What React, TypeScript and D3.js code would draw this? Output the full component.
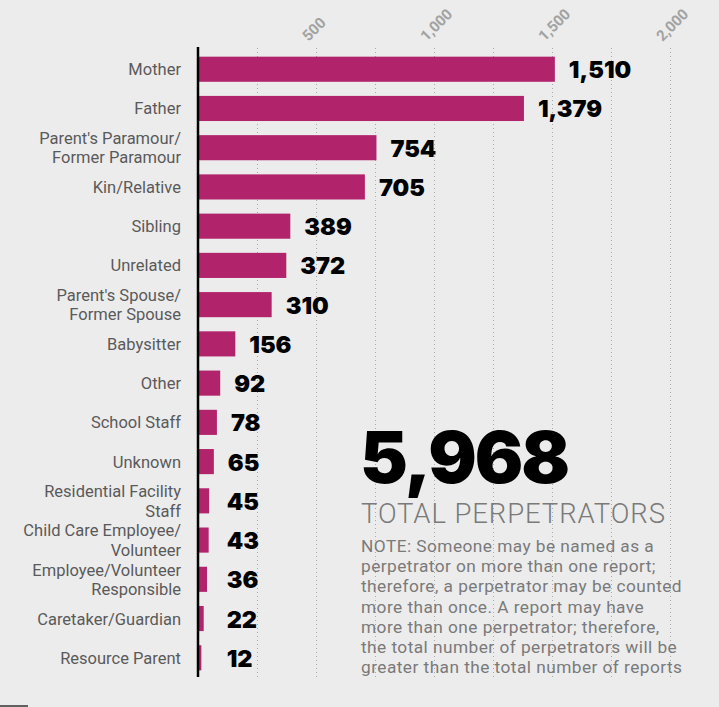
import React, { useEffect, useRef } from 'react';
import { select, scaleLinear, scaleBand, range, format } from 'd3';

// perpetrator relationship, "|" marks a line break in the label
const categories = [
  'Mother',
  'Father',
  "Parent's Paramour/|Former Paramour",
  'Kin/Relative',
  'Sibling',
  'Unrelated',
  "Parent's Spouse/|Former Spouse",
  'Babysitter',
  'Other',
  'School Staff',
  'Unknown',
  'Residential Facility|Staff',
  'Child Care Employee/|Volunteer',
  'Employee/Volunteer|Responsible',
  'Caretaker/Guardian',
  'Resource Parent',
];
const counts = [1510, 1379, 754, 705, 389, 372, 310, 156, 92, 78, 65, 45, 43, 36, 22, 12];
const tickLabels = [500, 1000, 1500, 2000];
const gridTicks = range(250, 2001, 250);

const totalValue = 5968;
const totalLabel = 'TOTAL PERPETRATORS';
const noteLines = [
  'NOTE: Someone may be named as a',
  'perpetrator on more than one report;',
  'therefore, a perpetrator may be counted',
  'more than once. A report may have',
  'more than one perpetrator; therefore,',
  'the total number of perpetrators will be',
  'greater than the total number of reports',
];

const W = 719;
const H = 707;

const App = () => {
  const svgRef = useRef<SVGSVGElement>(null);

  useEffect(() => {
    document.body.style.margin = '0';
    const svg = select(svgRef.current);
    svg.selectAll('*').remove();

    const x = scaleLinear().domain([0, 2000]).range([198.5, 670.5]);
    const y = scaleBand<number>()
      .domain(categories.map((d, i) => i))
      .range([50, 677])
      .paddingInner(0.36)
      .paddingOuter(0.17);
    const fmt = format(',');

    svg.append('rect').attr('width', W).attr('height', H).attr('fill', '#ececec');

    // dotted grid
    svg.append('g')
      .selectAll('line')
      .data(gridTicks)
      .join('line')
      .attr('x1', d => x(d))
      .attr('x2', d => x(d))
      .attr('y1', 48)
      .attr('y2', 677)
      .attr('stroke', '#a8a8a8')
      .attr('stroke-width', 1)
      .attr('stroke-dasharray', '1,3');

    // rotated tick labels
    svg.append('g')
      .selectAll('text')
      .data(tickLabels)
      .join('text')
      .attr('transform', d => `translate(${x(d) - 8},42) rotate(-45)`)
      .attr('font-family', 'Roboto, sans-serif')
      .attr('font-weight', 700)
      .attr('font-size', 15)
      .attr('fill', '#a2a2a2')
      .text(d => fmt(d));

    // bars
    svg.append('g')
      .selectAll('rect')
      .data(counts)
      .join('rect')
      .attr('x', x(0))
      .attr('y', (d, i) => y(i)!)
      .attr('width', d => x(d) - x(0))
      .attr('height', y.bandwidth())
      .attr('fill', '#b1236b');

    // axis line
    svg.append('line')
      .attr('x1', 198)
      .attr('x2', 198)
      .attr('y1', 47)
      .attr('y2', 677)
      .attr('stroke', '#000')
      .attr('stroke-width', 2.5);

    // category labels
    const labels = svg.append('g')
      .selectAll('text')
      .data(categories)
      .join('text')
      .attr('text-anchor', 'end')
      .attr('font-family', 'Roboto, sans-serif')
      .attr('font-weight', 400)
      .attr('font-size', 16.5)
      .attr('fill', '#5a5a5a');
    labels.each(function (d, i) {
      const lines = d.split('|');
      const cy = y(i)! + y.bandwidth() / 2;
      const lh = 19.4;
      const first = cy + 6 - ((lines.length - 1) * lh) / 2;
      select(this)
        .selectAll('tspan')
        .data(lines)
        .join('tspan')
        .attr('x', 181)
        .attr('y', (l, j) => first + j * lh)
        .text(l => l);
    });

    // value labels
    svg.append('g')
      .selectAll('text')
      .data(counts)
      .join('text')
      .attr('x', d => Math.max(x(d), x(60)) + 14)
      .attr('y', (d, i) => y(i)! + y.bandwidth() / 2 + 9)
      .attr('font-family', 'Inter, sans-serif')
      .attr('font-weight', 900)
      .attr('font-size', 23.5)
      .attr('fill', '#000')
      .text(d => fmt(d));

    // total block
    svg.append('text')
      .attr('x', 360)
      .attr('y', 483)
      .attr('font-family', 'Inter, sans-serif')
      .attr('font-weight', 900)
      .attr('font-size', 72)
      .attr('letter-spacing', -2)
      .attr('fill', '#000')
      .text(fmt(totalValue));

    svg.append('text')
      .attr('x', 361)
      .attr('y', 523)
      .attr('font-family', 'Roboto, sans-serif')
      .attr('font-weight', 300)
      .attr('font-size', 27.5)
      .attr('textLength', 304)
      .attr('lengthAdjust', 'spacing')
      .attr('fill', '#7a7a7a')
      .text(totalLabel);

    svg.append('g')
      .selectAll('text')
      .data(noteLines)
      .join('text')
      .attr('x', 361)
      .attr('y', (d, i) => 552 + i * 20.2)
      .attr('font-family', 'Roboto, sans-serif')
      .attr('font-size', 17.3)
      .attr('letter-spacing', 0.45)
      .attr('fill', '#7a7a7a')
      .text(d => d);

    svg.append('line')
      .attr('x1', 0)
      .attr('x2', 28)
      .attr('y1', 706)
      .attr('y2', 706)
      .attr('stroke', '#333')
      .attr('stroke-width', 1.5);
  }, []);

  return <svg ref={svgRef} width={W} height={H} style={{ display: 'block' }} />;
};

export default App;
